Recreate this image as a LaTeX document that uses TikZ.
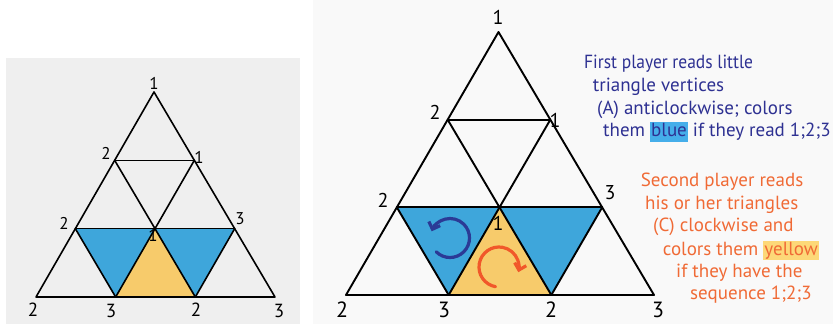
\documentclass[tikz,border=0pt]{standalone}
\usepackage{fontspec}
\setmainfont{PT Sans}
\usetikzlibrary{calc,arrows.meta}
\definecolor{bluefillc}{HTML}{3EA6DB}
\definecolor{yellowfillc}{HTML}{F7CB6B}
\definecolor{bluearcc}{HTML}{2B3A96}
\definecolor{orangearcc}{HTML}{F1582A}
\definecolor{bluetextc}{HTML}{2E3192}
\definecolor{orangetextc}{HTML}{F06A35}
\definecolor{hlbluec}{HTML}{45AEEA}
\definecolor{hlyellowc}{HTML}{FDD878}
\definecolor{leftbgc}{HTML}{EFEFEF}
\definecolor{rightbgc}{HTML}{F9F9F9}
\newcommand{\hlbox}[2]{{\setlength{\fboxsep}{1pt}\colorbox{#1}{\rule[-4pt]{0pt}{14pt}#2}}}
\newcommand{\trigrid}[5]{%
  % #1 prefix, #2 apex, #3 bottom-left, #4 bottom-right, #5 line width
  \coordinate (#1A) at #2;
  \coordinate (#1B) at #3;
  \coordinate (#1C) at #4;
  \coordinate (#1L1) at ($(#1A)!1/3!(#1B)$);
  \coordinate (#1R1) at ($(#1A)!1/3!(#1C)$);
  \coordinate (#1L2) at ($(#1A)!2/3!(#1B)$);
  \coordinate (#1R2) at ($(#1A)!2/3!(#1C)$);
  \coordinate (#1M2) at ($(#1L2)!1/2!(#1R2)$);
  \coordinate (#1D1) at ($(#1B)!1/3!(#1C)$);
  \coordinate (#1D2) at ($(#1B)!2/3!(#1C)$);
  \fill[bluefillc] (#1L2) -- (#1M2) -- (#1D1) -- cycle;
  \fill[bluefillc] (#1M2) -- (#1R2) -- (#1D2) -- cycle;
  \fill[yellowfillc] (#1M2) -- (#1D1) -- (#1D2) -- cycle;
  \begin{scope}[gridline,line width=#5]
  \draw (#1A) -- (#1B) -- (#1C) -- cycle;
  \draw (#1L1) -- (#1R1);
  \draw (#1L2) -- (#1R2);
  \draw (#1R1) -- (#1D1);
  \draw (#1R2) -- (#1D2);
  \draw (#1L1) -- (#1D2);
  \draw (#1L2) -- (#1D1);
  \end{scope}
}
\begin{document}
\begin{tikzpicture}[x=1pt,y=-1pt,
  gridline/.style={black,line join=round,line cap=round},
  smalllbl/.style={inner sep=0pt,font=\fontsize{17}{17}\selectfont},
  smallbot/.style={inner sep=0pt,font=\fontsize{19}{19}\selectfont},
  biglbl/.style={inner sep=0pt,font=\fontsize{20}{20}\selectfont},
  bigbot/.style={inner sep=0pt,font=\fontsize{22}{22}\selectfont},
  bluetxt/.style={inner sep=0pt,anchor=base west,text=bluetextc,font=\fontsize{19}{22}\selectfont},
  orangetxt/.style={inner sep=0pt,anchor=base west,text=orangetextc,font=\fontsize{19}{22}\selectfont},
  arcline/.style={line width=3.2pt,line cap=round,-{Straight Barb[length=6pt,width=12pt,line width=3.2pt]}}]
\useasboundingbox (0,0) rectangle (833,324);
\fill[leftbgc] (6,58) rectangle (300,324);
\fill[rightbgc] (313,0) rectangle (833,324);

% left triangle
\trigrid{l}{(154,92)}{(36,297)}{(275,297)}{1.6pt}
\node[smalllbl] (la) at (154,83) {1};
\node[smalllbl] (ll1) at (106,153) {2};
\node[smalllbl] (lr1) at (199,157) {1};
\node[smalllbl] (ll2) at (64,223) {2};
\node[smalllbl] (lr2) at (240,219) {3};
\node[smalllbl] (lm2) at (153,235) {1};
\node[smallbot] (lb) at (33,310) {2};
\node[smallbot] (ld1) at (111,311) {3};
\node[smallbot] (ld2) at (196,310) {2};
\node[smallbot] (lc) at (279,311) {3};

% right triangle
\trigrid{r}{(498.5,32)}{(346,295)}{(654,295)}{1.9pt}
\node[biglbl] (ra) at (498,17) {1};
\node[biglbl] (rl1) at (435,112) {2};
\node[biglbl] (rr1) at (555,120) {1};
\node[biglbl] (rl2) at (383,200) {2};
\node[biglbl] (rr2) at (610,193) {3};
\node[biglbl] (rm2) at (498,223) {1};
\node[bigbot] (rb) at (342,310) {2};
\node[bigbot] (rd1) at (444,310) {3};
\node[bigbot] (rd2) at (551,310) {2};
\node[bigbot] (rc) at (658,310) {3};

% rotation arrows
\draw[arcline,bluearcc] ([shift={(-225:19.5)}]450,238) arc[start angle=-225,end angle=-520,radius=19.5];
\draw[arcline,orangearcc] ([shift={(-260:20)}]499,267) arc[start angle=-260,end angle=15,radius=20];

% blue text
\node[bluetxt] (b1) at (584,68.3) {\scalebox{0.92}[1]{First player reads little}};
\node[bluetxt] (b2) at (592.7,91.5) {triangle vertices};
\node[bluetxt] (b3) at (597,114) {(A) anticlockwise; colors};
\node[bluetxt] (b4) at (603,136.7) {them \hlbox{hlbluec}{blue} if they read 1;2;3};

% orange text
\node[orangetxt] (o1) at (640.7,186.7) {Second player reads};
\node[orangetxt] (o2) at (645,209.3) {his or her triangles};
\node[orangetxt] (o3) at (653,231.7) {(C) clockwise and};
\node[orangetxt] (o4) at (662.7,255) {colors them \hlbox{hlyellowc}{yellow}};
\node[orangetxt] (o5) at (676,277.3) {if they have the};
\node[orangetxt] (o6) at (690,299.3) {sequence 1;2;3};
\end{tikzpicture}
\end{document}
